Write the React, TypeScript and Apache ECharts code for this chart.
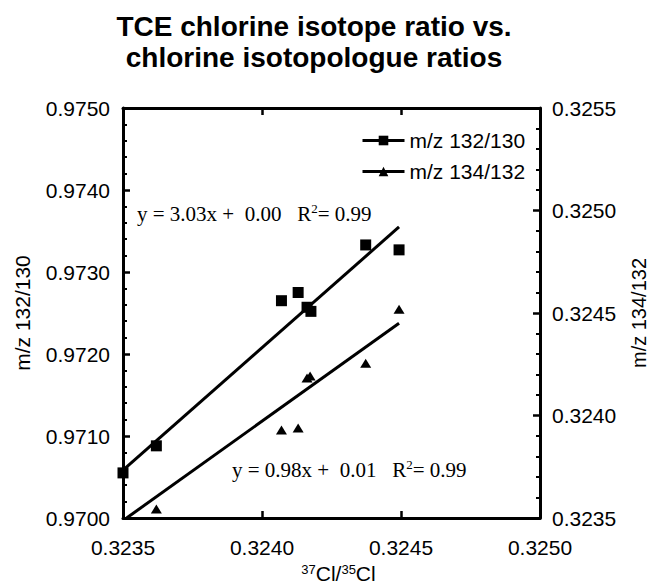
import React, { useEffect, useRef } from "react";
import * as echarts from "echarts";

const titleLines = ["TCE chlorine isotope ratio vs.", "chlorine isotopologue ratios"];
const series1Name = "m/z 132/130";
const series2Name = "m/z 134/132";

// m/z 132/130 (left axis)
const sq: [number, number][] = [
  [0.3235, 0.97055],
  [0.32362, 0.97088],
  [0.32407, 0.97265],
  [0.32413, 0.97275],
  [0.324162, 0.97257],
  [0.324176, 0.97252],
  [0.324373, 0.97333],
  [0.324493, 0.97327],
];
// m/z 134/132 (right axis)
const tri: [number, number][] = [
  [0.32362, 0.323544],
  [0.32407, 0.323929],
  [0.32413, 0.323939],
  [0.324162, 0.324183],
  [0.324173, 0.324193],
  [0.324373, 0.324255],
  [0.324493, 0.324518],
];
// fitted lines
const fit1: [number, number][] = [
  [0.3235, 0.970585],
  [0.324493, 0.973549],
];
const fit2: [number, number][] = [
  [0.323513, 0.3235],
  [0.324493, 0.32445],
];
const eq1 = "y = 3.03x +\u00a0 0.00\u00a0\u00a0 R{sup|2}= 0.99";
const eq2 = "y = 0.98x +\u00a0 0.01\u00a0\u00a0 R{sup|2}= 0.99";

const xRange = { min: 0.3235, max: 0.325, interval: 0.0005 };
const yLeftRange = { min: 0.97, max: 0.975, interval: 0.001 };
const yRightRange = { min: 0.3235, max: 0.3255, interval: 0.0005 };

const SANS = "'Liberation Sans', Arial, sans-serif";
const SERIF = "'Liberation Serif', 'Times New Roman', serif";

export default function App() {
  const ref = useRef<HTMLDivElement>(null);
  useEffect(() => {
    document.body.style.margin = "0";
    const chart = echarts.init(ref.current!, undefined, { renderer: "svg" });
    const fmt = (v: number) => v.toFixed(4);
    const tickCommon = {
      axisLine: { show: true, lineStyle: { color: "#000", width: 3 } },
      axisTick: { show: true, inside: true, length: 7, lineStyle: { color: "#000", width: 2.5 } },
      splitLine: { show: false },
    };
    const labelStyle = { color: "#000", fontSize: 21, fontFamily: SANS };
    chart.setOption({
      animation: false,
      grid: { left: 123, right: 113, top: 108, bottom: 69, containLabel: false, outerBoundsMode: "none" },
      graphic: [
        {
          type: "text",
          x: 314,
          y: 11,
          style: {
            text: titleLines.join("\n"),
            textAlign: "center",
            font: `bold 28px ${SANS}`,
            lineHeight: 31,
            fill: "#000",
          },
        },
        {
          type: "text",
          x: 137,
          y: 214,
          style: {
            text: eq1,
            textVerticalAlign: "middle",
            fontFamily: SERIF,
            fontSize: 21,
            lineHeight: 24,
            fill: "#000",
            rich: { sup: { fontSize: 13, lineHeight: 13, verticalAlign: "top", fontFamily: SERIF, fill: "#000" } },
          },
        },
        {
          type: "text",
          x: 232,
          y: 470,
          style: {
            text: eq2,
            textVerticalAlign: "middle",
            fontFamily: SERIF,
            fontSize: 21,
            lineHeight: 24,
            fill: "#000",
            rich: { sup: { fontSize: 13, lineHeight: 13, verticalAlign: "top", fontFamily: SERIF, fill: "#000" } },
          },
        },
      ],
      legend: {
        data: [series1Name, series2Name],
        orient: "vertical",
        left: 356,
        top: 125,
        itemWidth: 42,
        itemHeight: 12,
        itemGap: 10,
        textStyle: { color: "#000", fontSize: 21, fontFamily: SANS },
        lineStyle: { width: 3, color: "#000", opacity: 1 },
        itemStyle: { color: "#000" },
      },
      xAxis: [
        {
          type: "value",
          position: "bottom",
          ...xRange,
          ...tickCommon,
          axisLabel: { ...labelStyle, margin: 19, formatter: fmt },
          name: "{sup|37}Cl/{sup|35}Cl",
          nameLocation: "middle",
          nameGap: 43,
          nameTextStyle: {
            color: "#000",
            fontSize: 21,
            fontFamily: SANS,
            lineHeight: 22,
            padding: [0, 0, 0, 14],
            rich: { sup: { fontSize: 13, lineHeight: 13, verticalAlign: "top", fontFamily: SANS, color: "#000" } },
          },
        },
        {
          type: "value",
          position: "top",
          ...xRange,
          ...tickCommon,
          axisLabel: { show: false },
        },
      ],
      yAxis: [
        {
          type: "value",
          position: "left",
          ...yLeftRange,
          ...tickCommon,
          minorTick: { show: true, splitNumber: 5, length: 4, lineStyle: { color: "#000", width: 2 } },
          axisLabel: { ...labelStyle, margin: 13, formatter: fmt },
          name: series1Name,
          nameLocation: "middle",
          nameGap: 90,
          nameTextStyle: { color: "#000", fontSize: 21, fontFamily: SANS },
        },
        {
          type: "value",
          position: "right",
          ...yRightRange,
          ...tickCommon,
          minorTick: { show: true, splitNumber: 5, length: 4, lineStyle: { color: "#000", width: 2 } },
          axisLabel: { ...labelStyle, margin: 12, formatter: fmt },
          name: series2Name,
          nameLocation: "middle",
          nameGap: 89,
          nameTextStyle: { color: "#000", fontSize: 20, fontFamily: SANS },
        },
      ],
      series: [
        {
          name: "fit1",
          type: "line",
          xAxisIndex: 0,
          yAxisIndex: 0,
          data: fit1,
          symbol: "none",
          lineStyle: { color: "#000", width: 3 },
          z: 2,
          silent: true,
        },
        {
          name: "fit2",
          type: "line",
          xAxisIndex: 0,
          yAxisIndex: 1,
          data: fit2,
          symbol: "none",
          lineStyle: { color: "#000", width: 3 },
          z: 2,
          silent: true,
        },
        {
          name: series1Name,
          type: "line",
          xAxisIndex: 0,
          yAxisIndex: 0,
          data: sq,
          symbol: "rect",
          symbolSize: 11,
          showSymbol: true,
          showAllSymbol: true,
          lineStyle: { width: 0, opacity: 0 },
          itemStyle: { color: "#000" },
          z: 3,
        },
        {
          name: series2Name,
          type: "line",
          xAxisIndex: 0,
          yAxisIndex: 1,
          data: tri,
          symbol: "triangle",
          symbolSize: [11, 9],
          showSymbol: true,
          showAllSymbol: true,
          lineStyle: { width: 0, opacity: 0 },
          itemStyle: { color: "#000" },
          z: 3,
        },
      ],
    });
    return () => chart.dispose();
  }, []);
  return <div ref={ref} style={{ width: 653, height: 587 }} />;
}
